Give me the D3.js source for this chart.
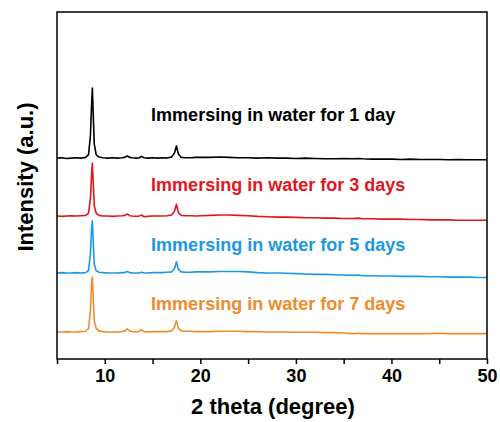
<!DOCTYPE html>
<html>
<head>
<meta charset="utf-8">
<script src="https://cdn.jsdelivr.net/npm/d3@7"></script>
<style>
  html, body { margin: 0; padding: 0; background: #fff; }
  svg text { font-family: Arial, "Liberation Sans", sans-serif; font-weight: bold; }
</style>
</head>
<body>
<svg id="chart" width="500" height="422"></svg>
<script>
// 2θ positions (degrees) shared by all four patterns
const twoTheta = [5, 5.5, 6, 6.5, 7, 7.5, 8, 8.3, 8.5, 8.6, 8.7, 8.8, 8.9, 9.1, 9.4, 9.8,
  10.3, 10.8, 11.3, 11.8, 12.1, 12.35, 12.6, 12.9, 13.3, 13.6, 13.85, 14.1, 14.5, 15, 15.5, 16, 16.5,
  17, 17.3, 17.5, 17.7, 18, 18.5, 19, 19.5, 20, 21, 22, 23, 24, 25, 26, 27, 28, 29, 30, 31, 32, 33,
  34, 35, 36, 36.5, 37, 38, 39, 40, 41, 42, 43, 44, 45, 46, 47, 48, 49, 50];

// Diffraction intensities (a.u.) after each immersion time
const day1 = [30, 31, 29, 30, 31, 30, 32, 40, 95, 170, 232, 150, 70, 40, 33, 31,
  30, 31, 30, 31, 32, 36, 32, 31, 30, 31, 35, 31, 30, 31, 30, 31, 30,
  33, 45, 65, 42, 32, 31, 31, 32, 32, 32, 33, 32, 31, 31, 30, 31, 30, 30, 29, 30, 29, 28,
  28, 29, 28, 29, 28, 27, 27, 27, 26, 27, 26, 26, 26, 25, 26, 25, 25, 25];
const day3 = [30, 29, 30, 31, 30, 31, 32, 38, 80, 140, 183, 120, 60, 38, 32, 30,
  30, 29, 30, 31, 32, 36, 31, 30, 29, 30, 33, 28, 29, 30, 30, 30, 31,
  33, 44, 64, 40, 32, 31, 31, 30, 31, 32, 33, 33, 32, 31, 29, 28, 27, 27, 26, 25, 25, 24,
  24, 23, 23, 24, 22, 22, 21, 21, 21, 20, 20, 19, 19, 19, 18, 18, 18, 18];
const day5 = [30, 31, 30, 30, 31, 30, 31, 37, 85, 150, 180, 115, 55, 36, 32, 31,
  30, 30, 30, 31, 31, 34, 31, 30, 30, 30, 32, 30, 30, 31, 31, 31, 32,
  33, 43, 62, 40, 33, 32, 32, 33, 33, 33, 34, 34, 34, 33, 31, 30, 30, 29, 28, 27, 26, 26,
  25, 24, 23, 24, 22, 22, 21, 21, 20, 20, 20, 19, 19, 18, 18, 18, 17, 17];
const day7 = [30, 30, 31, 30, 30, 31, 32, 40, 90, 160, 188, 125, 62, 40, 33, 31,
  30, 30, 30, 31, 33, 39, 33, 31, 30, 32, 37, 31, 30, 31, 31, 31, 31,
  33, 44, 62, 41, 33, 32, 32, 31, 31, 31, 32, 32, 32, 31, 31, 30, 30, 30, 29, 29, 29, 28,
  28, 27, 25, 26, 25, 25, 25, 25, 25, 25, 25, 25, 26, 25, 25, 25, 25, 25];

const seriesNames = ["Immersing in water for 1 day", "Immersing in water for 3 days",
  "Immersing in water for 5 days", "Immersing in water for 7 days"];
// vertical stacking offsets (a.u.)
const offsets = [549, 382, 218, 48];
const xTicks = [10, 20, 30, 40, 50];
const xMinorTicks = [5, 15, 25, 35, 45];

const colors = ["#000000", "#e3141d", "#1c98e2", "#f08b2d"];
const seriesValues = [day1, day3, day5, day7];

const svg = d3.select("#chart");
const plot = { left: 57, right: 487, top: 12, bottom: 359 };

const x = d3.scaleLinear().domain([5, 50]).range([plot.left, plot.right]);
const y = d3.scaleLinear().domain([0, 1000]).range([plot.bottom, plot.top]);

// traces
const line = d3.line()
  .x(d => x(d[0]))
  .y(d => y(d[1]));

seriesValues.forEach((vals, i) => {
  const pts = twoTheta.map((t, k) => [t, vals[k] + offsets[i]]);
  svg.append("path")
    .datum(pts)
    .attr("fill", "none")
    .attr("stroke", colors[i])
    .attr("stroke-width", 1.6)
    .attr("stroke-linejoin", "round")
    .attr("d", line);
});

// series captions, placed above each trace
const captionTheta = 14.85;
const captionHeight = [137, 102, 93, 93];
seriesNames.forEach((name, i) => {
  svg.append("text")
    .attr("x", x(captionTheta))
    .attr("y", y(offsets[i] + captionHeight[i]))
    .attr("fill", colors[i])
    .style("font-size", "18px")
    .text(name);
});

// frame
svg.append("rect")
  .attr("x", plot.left)
  .attr("y", plot.top)
  .attr("width", plot.right - plot.left)
  .attr("height", plot.bottom - plot.top)
  .attr("fill", "none")
  .attr("stroke", "#000")
  .attr("stroke-width", 1.5);

// bottom axis: labelled major ticks plus unlabelled minor ticks
const xAxis = svg.append("g")
  .attr("transform", `translate(0,${plot.bottom})`)
  .call(d3.axisBottom(x).tickValues(xTicks).tickSize(5).tickSizeOuter(0).tickPadding(5)
    .tickFormat(d3.format("d")));
xAxis.select(".domain").remove();
xAxis.selectAll(".tick line").attr("stroke-width", 1.5);
xAxis.selectAll(".tick text")
  .attr("fill", "#000")
  .style("font-size", "18px")
  .style("font-family", "Arial, 'Liberation Sans', sans-serif")
  .style("font-weight", "bold");

const xMinor = svg.append("g")
  .attr("transform", `translate(0,${plot.bottom})`)
  .call(d3.axisBottom(x).tickValues(xMinorTicks).tickSize(5).tickSizeOuter(0).tickFormat(""));
xMinor.select(".domain").remove();
xMinor.selectAll(".tick line").attr("stroke-width", 1.5);

// axis titles
svg.append("text")
  .attr("x", (plot.left + plot.right) / 2 + 1)
  .attr("y", 414)
  .attr("text-anchor", "middle")
  .style("font-size", "22px")
  .text("2 theta (degree)");

svg.append("text")
  .attr("transform", "translate(33,177) rotate(-90)")
  .attr("text-anchor", "middle")
  .style("font-size", "22px")
  .text("Intensity (a.u.)");
</script>
</body>
</html>
